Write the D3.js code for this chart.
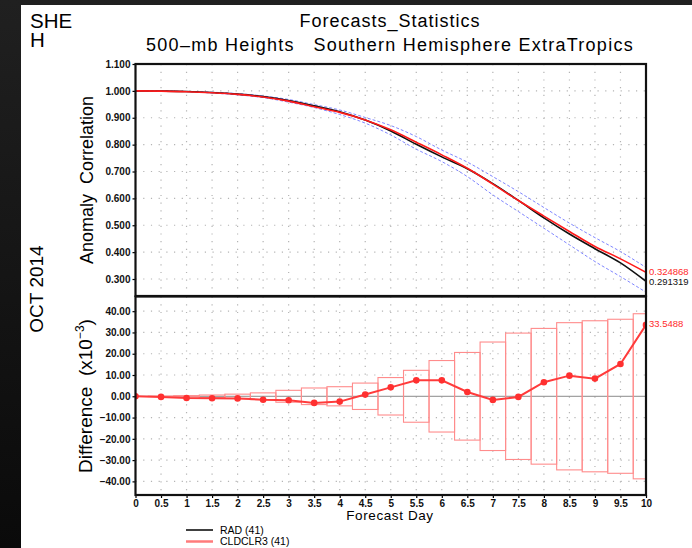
<!DOCTYPE html>
<meta charset="utf-8">
<title>Forecasts_Statistics</title>
<script src="https://d3js.org/d3.v7.min.js"></script>
<style>
	body { margin: 0; background: #151515; }
	svg { display: block; font-family: "Liberation Sans", Arial, sans-serif; }
	.tick text { font-weight: bold; font-size: 10px; fill: #111; }
	.tick line { stroke: #000; stroke-width: 1.2; }
	.grid line { stroke: #b4b4b4; stroke-width: 1.2; stroke-dasharray: 1.2,6.5; }
</style>
<body>
<svg id="chart" width="692" height="548"></svg>
<script>

var days = [0,0.5,1,1.5,2,2.5,3,3.5,4,4.5,5,5.5,6,6.5,7,7.5,8,8.5,9,9.5,10];

// anomaly correlation
var rad      = [1.000,0.9993,0.9978,0.9939,0.988,0.9786,0.9639,0.9441,0.9225,0.8912,0.8508,0.8015,0.7545,0.710,0.6547,0.5923,0.5274,0.4673,0.4127,0.3598,0.291319];
var cldclr3  = [1.000,0.999,0.997,0.993,0.987,0.977,0.962,0.941,0.920,0.892,0.855,0.809,0.762,0.712,0.653,0.592,0.534,0.477,0.421,0.375,0.324868];
var bandHi   = [1.000,0.9995,0.998,0.995,0.990,0.981,0.968,0.949,0.929,0.901,0.871,0.830,0.780,0.735,0.681,0.625,0.566,0.508,0.454,0.402,0.343];
var bandLo   = [1.000,0.999,0.997,0.992,0.985,0.975,0.958,0.938,0.912,0.880,0.836,0.783,0.737,0.681,0.613,0.551,0.489,0.427,0.365,0.309,0.251];

// difference CLDCLR3 - RAD (x10^-3) and significance boxes
var diff     = [0,-0.3,-0.8,-0.9,-1.0,-1.6,-1.9,-3.1,-2.5,0.8,4.2,7.5,7.5,2.0,-1.7,-0.3,6.6,9.7,8.3,15.2,33.5488];
var signif   = [0,0.1,0.3,0.6,1.0,1.6,2.8,3.9,4.5,6.2,8.8,12.2,16.8,20.6,25.5,29.7,31.9,34.6,35.5,36.2,38.8];

var acTicks   = [1.1,1.0,0.9,0.8,0.7,0.6,0.5,0.4,0.3];
var diffTicks = [40,30,20,10,0,-10,-20,-30,-40];

var legend = [
	{name: "RAD (41)", color: "#000", width: 1.5},
	{name: "CLDCLR3 (41)", color: "#ff7b7b", width: 2.5}
];

var svg = d3.select("#chart");

var defs = svg.append("defs");
var grad = defs.append("linearGradient").attr("id","bg").attr("x1",0).attr("y1",0).attr("x2",0).attr("y2",1);
grad.append("stop").attr("offset","0%").attr("stop-color","#202020");
grad.append("stop").attr("offset","100%").attr("stop-color","#0a0a0a");

svg.append("rect").attr("width",692).attr("height",548).attr("fill","url(#bg)");
svg.append("rect").attr("x",21).attr("y",5).attr("width",671).attr("height",543).attr("fill","#fff");

var x = d3.scaleLinear().domain([0,10]).range([135.5,646]);
var yTop = d3.scaleLinear().domain([0.2368,1.1]).range([296,64]);
var yBot = d3.scaleLinear().domain([-46.4,46.9]).range([495,296.5]);

defs.append("clipPath").attr("id","clipTop").append("rect")
	.attr("x",x(0)).attr("y",yTop(1.1)).attr("width",x(10)-x(0)).attr("height",yTop.range()[0]-yTop(1.1));
defs.append("clipPath").attr("id","clipBot").append("rect")
	.attr("x",x(0)).attr("y",yBot.range()[1]).attr("width",x(10)-x(0)).attr("height",yBot.range()[0]-yBot.range()[1]);

// titles
var she = svg.append("text").attr("x",30).attr("y",28).attr("font-size",20.5);
she.append("tspan").attr("x",30).text("SHE");
she.append("tspan").attr("x",30).attr("dy",19).text("H");
svg.append("text").attr("x",390).attr("y",27).attr("text-anchor","middle")
	.attr("font-size",18).attr("letter-spacing",1).text("Forecasts_Statistics");
svg.append("text").attr("x",390).attr("y",51).attr("text-anchor","middle")
	.attr("font-size",18).attr("letter-spacing",1.25).style("white-space","pre")
	.text("500\u2013mb Heights   Southern Hemisphere ExtraTropics");
svg.append("text").attr("transform","translate(43,289) rotate(-90)").attr("text-anchor","middle")
	.attr("font-size",19).text("OCT 2014");

svg.append("text").attr("transform","translate(93,180) rotate(-90)").attr("text-anchor","middle")
	.attr("font-size",18).style("white-space","pre").text("Anomaly  Correlation");
var dl = svg.append("text").attr("transform","translate(92,396) rotate(-90)").attr("text-anchor","middle")
	.attr("font-size",19).style("white-space","pre");
dl.append("tspan").text("Difference  (x10");
dl.append("tspan").attr("font-size",12).attr("dy",-8).text("\u22123");
dl.append("tspan").attr("dy",8).text(")");

// grids
var gTop = svg.append("g").attr("class","grid");
gTop.selectAll(".v").data(days.slice(1,-1)).enter().append("line")
	.attr("x1",d=>x(d)).attr("x2",d=>x(d)).attr("y1",yTop(1.1)).attr("y2",yTop.range()[0]);
gTop.selectAll(".h").data(acTicks.slice(1)).enter().append("line")
	.attr("x1",x(0)).attr("x2",x(10)).attr("y1",d=>yTop(d)).attr("y2",d=>yTop(d));

var gBot = svg.append("g").attr("class","grid");
gBot.selectAll(".v").data(days.slice(1,-1)).enter().append("line")
	.attr("x1",d=>x(d)).attr("x2",d=>x(d)).attr("y1",yBot.range()[1]).attr("y2",yBot.range()[0]);
gBot.selectAll(".h").data(diffTicks.filter(d=>d!=0)).enter().append("line")
	.attr("x1",x(0)).attr("x2",x(10)).attr("y1",d=>yBot(d)).attr("y2",d=>yBot(d));

// top panel lines
var idx = d3.range(days.length);
var topLine = function(arr) {
	return d3.line().x(i=>x(days[i])).y(i=>yTop(arr[i])).curve(d3.curveMonotoneX)(idx);
};
var acGroup = svg.append("g").attr("clip-path","url(#clipTop)");
[bandHi, bandLo].forEach(function(arr) {
	acGroup.append("path").attr("d",topLine(arr)).attr("fill","none")
		.attr("stroke","#7f86ff").attr("stroke-width",1).attr("stroke-dasharray","3,2");
});
acGroup.append("path").attr("d",topLine(rad)).attr("fill","none").attr("stroke","#111").attr("stroke-width",1.6);
acGroup.append("path").attr("d",topLine(cldclr3)).attr("fill","none").attr("stroke","#ff1a1a").attr("stroke-width",1.6);

svg.append("text").attr("x",649).attr("y",275).attr("font-size",9.5).attr("fill","#ff2a2a")
	.text(cldclr3[cldclr3.length-1]);
svg.append("text").attr("x",649).attr("y",285).attr("font-size",9.5).attr("fill","#111")
	.text(rad[rad.length-1]);

// bottom panel
var diffGroup = svg.append("g").attr("clip-path","url(#clipBot)");
diffGroup.append("line").attr("x1",x(0)).attr("x2",x(10)).attr("y1",yBot(0)).attr("y2",yBot(0))
	.attr("stroke","#8a8a8a").attr("stroke-width",1);
diffGroup.selectAll(".box").data(idx).enter().append("rect")
	.attr("x",i=>x(days[i]-0.25)).attr("width",x(0.5)-x(0))
	.attr("y",i=>yBot(signif[i])).attr("height",i=>yBot(-signif[i])-yBot(signif[i]))
	.attr("fill","none").attr("stroke","#ff8c8c").attr("stroke-width",1.1);
diffGroup.append("path")
	.attr("d",d3.line().x(i=>x(days[i])).y(i=>yBot(diff[i]))(idx))
	.attr("fill","none").attr("stroke","#ff3b3b").attr("stroke-width",2);
diffGroup.selectAll(".pt").data(idx).enter().append("circle")
	.attr("cx",i=>x(days[i])).attr("cy",i=>yBot(diff[i])).attr("r",3.3).attr("fill","#ff3030");

svg.append("text").attr("x",649).attr("y",327).attr("font-size",9.5).attr("fill","#ff2a2a")
	.text(diff[diff.length-1]);

// axes
var axTop = svg.append("g").attr("transform","translate("+x(0)+",0)")
	.call(d3.axisLeft(yTop).tickValues(acTicks).tickSize(3).tickPadding(2).tickFormat(d3.format(".3f")));
var axBot = svg.append("g").attr("transform","translate("+x(0)+",0)")
	.call(d3.axisLeft(yBot).tickValues(diffTicks).tickSize(3).tickPadding(2).tickFormat(d3.format(".2f")));
var axX = svg.append("g").attr("transform","translate(0,"+yBot.range()[0]+")")
	.call(d3.axisBottom(x).tickValues(days).tickSize(3).tickPadding(2).tickFormat(d=>String(d)));
[axTop, axBot, axX].forEach(g => g.select(".domain").remove());

// frames
svg.append("rect").attr("x",x(0)).attr("y",yTop(1.1)).attr("width",x(10)-x(0)).attr("height",yTop.range()[0]-yTop(1.1))
	.attr("fill","none").attr("stroke","#111").attr("stroke-width",2.2);
svg.append("rect").attr("x",x(0)).attr("y",yBot.range()[1]).attr("width",x(10)-x(0)).attr("height",yBot.range()[0]-yBot.range()[1])
	.attr("fill","none").attr("stroke","#111").attr("stroke-width",2.2);

svg.append("text").attr("x",390).attr("y",520).attr("text-anchor","middle")
	.attr("font-size",13.5).attr("letter-spacing",0.6).text("Forecast Day");

// legend
var lg = svg.append("g").selectAll("g").data(legend).enter().append("g")
	.attr("transform",(d,i)=>"translate(186,"+(530+i*11.5)+")");
lg.append("line").attr("x1",0).attr("x2",27).attr("stroke",d=>d.color).attr("stroke-width",d=>d.width);
lg.append("text").attr("x",34).attr("y",3.6).attr("font-size",10.5).text(d=>d.name);

</script>
</body>
